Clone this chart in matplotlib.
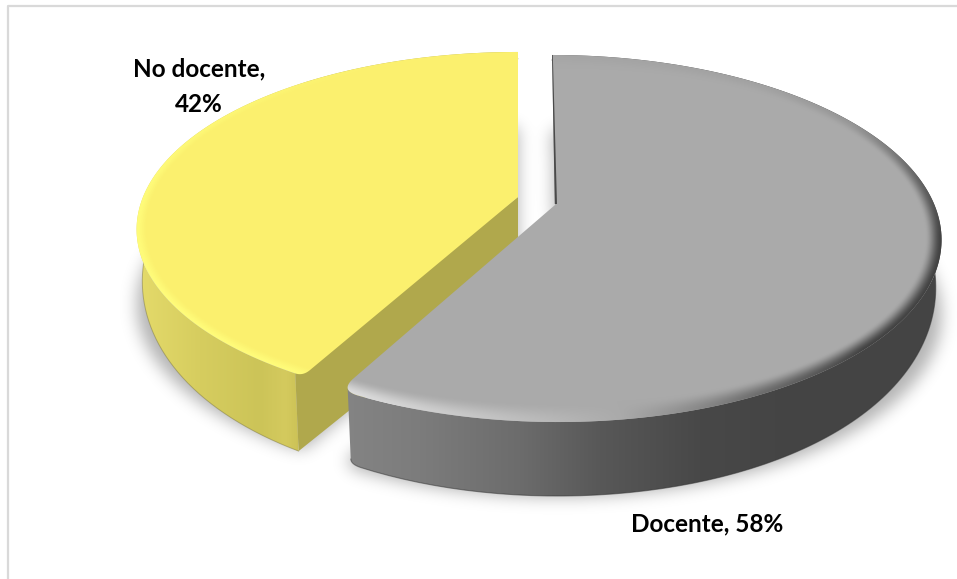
import numpy as np
import matplotlib
matplotlib.use('Agg')
import matplotlib.pyplot as plt
from matplotlib.patches import Polygon
from matplotlib.path import Path

names = ['Docente', 'No docente']
shares = [58, 42]

W, H = 957, 579
persp = 0.1826

fig = plt.figure(figsize=(W / 100, H / 100), dpi=100)
ax = fig.add_axes([0, 0, 1, 1])

X, Y = np.meshgrid(np.arange(W) + 0.5, np.arange(H) + 0.5)
cut = shares[0] / sum(shares) * 360.0

# wall height against distance below the slice apex
drop_fit = np.polyfit([-150, 0, 180, 217], [5, 40, 71, 74], 3)


def rim(theta, d):
    t = np.radians(theta)
    u, v = np.sin(t), np.cos(t)
    den = 1 + persp * v
    return np.column_stack([d['cx'] + d['rx'] * u / den - d['lean'] * v,
                            d['cy'] - d['ry'] * v / den])


def drop(y, d):
    return d['wall'] * np.polyval(drop_fit, y - d['cy'])


def lower_edge(pts, d):
    # the base of the wall sits a little closer to the centre than the rim
    return np.column_stack([pts[:, 0] + (d['cx'] - pts[:, 0]) * 0.015,
                            pts[:, 1] + drop(pts[:, 1], d)])


def curve(a, ctrl, b):
    s = np.linspace(0, 1, 16)[:, None]
    return (1 - s)**2 * a + 2 * s * (1 - s) * ctrl + s**2 * b


def outline(d, start, end, tip_at_end):
    # arc with the outer corner at the cut rounded off, returns the
    # rounded part separately so the wall can stop at its outermost point
    apex = np.array([d['cx'], d['cy']])
    tip = rim(np.array([end if tip_at_end else start]), d)[0]
    edge = tip + (apex - tip) * d['round_px'] / np.hypot(*(apex - tip))
    if tip_at_end:
        arc = rim(np.linspace(start, end - d['round_deg'], 200), d)
        corner = curve(arc[-1], tip, edge)
        return np.vstack([arc, corner]), np.vstack([arc, corner[:corner[:, 0].argmin() + 1]])
    arc = rim(np.linspace(start + d['round_deg'], end, 200), d)
    corner = curve(edge, tip, arc[0])
    return np.vstack([corner, arc]), np.vstack([corner[corner[:, 0].argmin():], arc])


def face_image(d, base, light, dark, width, angles, strength):
    dy = (d['cy'] - Y) / d['ry']
    v = dy / (1 - persp * dy)
    u = (X - d['cx'] + d['lean'] * v) * (1 + persp * v) / d['rx']
    r = np.hypot(u, v)
    theta = np.degrees(np.arctan2(u, v)) % 360
    radial = np.hypot(X - d['cx'], Y - d['cy']) / np.maximum(r, 1e-6)
    p = np.clip(1 - (1 - r) * radial / width, 0, 1)
    p = (p * p * (3 - 2 * p))[..., None]
    s = np.interp(theta, angles, strength)[..., None]
    base, light, dark = [np.array(c, float) for c in (base, light, dark)]
    rgb = base + p * (np.clip(s, 0, 1) * (light - base) + np.clip(-s, 0, 1) * (dark - base))
    return np.clip(rgb, 0, 255).astype(np.uint8)


def wall_image(xs, colors):
    colors = np.array(colors, float)
    rgb = np.stack([np.interp(X, xs, colors[:, i]) for i in range(3)], axis=-1)
    return rgb.astype(np.uint8)


def paint(img, verts, zorder):
    patch = Polygon(verts, closed=True, transform=ax.transData, fc='none', ec='none')
    ax.add_patch(patch)
    im = ax.imshow(img, extent=(0, W, H, 0), aspect='auto', interpolation='bilinear', zorder=zorder)
    im.set_clip_path(patch)


def blur(a, sigma):
    n = int(3 * sigma)
    g = np.exp(-0.5 * (np.arange(-n, n + 1) / sigma)**2)
    g /= g.sum()
    a = np.apply_along_axis(lambda c: np.convolve(c, g, mode='same'), 0, a)
    return np.apply_along_axis(lambda c: np.convolve(c, g, mode='same'), 1, a)


grey = dict(cx=555.0, cy=205.0, rx=379.5, ry=177.4, lean=3.0, wall=1.0, round_px=18.0, round_deg=2.6)
yellow = dict(cx=518.0, cy=197.0, rx=375.0, ry=171.5, lean=0.0, wall=1.1, round_px=9.0, round_deg=1.2)

grey_rim, grey_wall_top = outline(grey, 0.0, cut, True)
yellow_rim, yellow_wall_top = outline(yellow, cut, 360.0, False)
grey_apex = np.array([[grey['cx'], grey['cy']]])
yellow_apex = np.array([[yellow['cx'], yellow['cy']]])
grey_face = np.vstack([grey_apex, grey_rim])
yellow_face = np.vstack([yellow_apex, yellow_rim])

# soft ground shadow under both slices
pts = np.column_stack([X.ravel(), Y.ravel()])
mask = np.zeros(X.shape)
for face in (grey_face, yellow_face):
    shifted = face + np.array([0.0, 75.0])
    mask = np.maximum(mask, Path(shifted).contains_points(pts).reshape(X.shape).astype(float))
shadow = blur(mask, 8.0)
rgba = np.zeros((H, W, 4))
rgba[..., 3] = shadow * 0.3
ax.imshow(rgba, extent=(0, W, H, 0), aspect='auto', zorder=1)

# yellow slice: cut side, outer wall, then the top
yb = lower_edge(yellow_wall_top, yellow)
cut_side = np.array([yellow_apex[0], yellow_wall_top[0], yb[0], yellow_apex[0] + [0, 78]])
ax.add_patch(Polygon(cut_side, closed=True, fc='#B0A84C', ec='none', zorder=2))
paint(wall_image([140, 200, 260, 285, 296, 306],
                 [(228, 218, 106), (214, 205, 95), (204, 196, 88), (212, 202, 94), (206, 196, 88), (186, 176, 76)]),
      np.vstack([yellow_wall_top, yb[::-1]]), 3)
paint(face_image(yellow, (251, 240, 110), (255, 252, 122), (251, 240, 110), 11,
                 [0, 209, 270, 300, 330, 360], [0, 1, 1, 0.6, 0.1, 0]),
      yellow_face, 4)

# grey slice
gb = lower_edge(grey_wall_top, grey)
paint(wall_image([345, 420, 520, 600, 700, 800],
                 [(132, 132, 132), (124, 124, 124), (108, 108, 108), (88, 88, 88), (72, 72, 72), (68, 68, 68)]),
      np.vstack([grey_wall_top, gb[::-1]]), 5)
ax.plot(gb[:, 0], gb[:, 1], color='#333333', lw=0.8, alpha=0.5, zorder=5)
ax.plot(yb[:, 0], yb[:, 1], color='#6b6530', lw=0.7, alpha=0.4, zorder=3)
paint(face_image(grey, (170, 170, 170), (226, 226, 226), (66, 66, 66), 16,
                 [0, 40, 60, 80, 100, 135, 155, 172, 190, 209],
                 [-0.04, -0.08, -0.2, -0.65, -1, -1, -0.55, 0, 0.5, 0.95]),
      grey_face, 6)

# sliver of the cut side showing along the top of the grey slice
top = rim(np.array([0.0]), grey)[0]
ax.add_patch(Polygon([top, top + [0.8, 0], grey_apex[0] + [2, -1], grey_apex[0] + [-0.2, -1]],
                     closed=True, fc='#4a4a4a', ec='none', zorder=7))

# chart area border, runs off the right and bottom of the figure
ax.plot([7.5, 7.5, W + 5], [H + 5, 5.5, 5.5], color='#D9D9D9', lw=1.6, zorder=0)

label_font = dict(family='Lato', fontweight='bold', fontsize=17.5, color='black', zorder=10)
ax.text(199, 87, f'{names[1]},\n{shares[1]}%', ha='center', va='center', linespacing=1.65,
        fontstretch='normal', **label_font)
ax.text(707, 524, f'{names[0]}, {shares[0]}%', ha='center', va='center', **label_font)

ax.set_xlim(0, W)
ax.set_ylim(H, 0)
ax.axis('off')

fig.savefig('out.png', dpi=100, facecolor='white')
